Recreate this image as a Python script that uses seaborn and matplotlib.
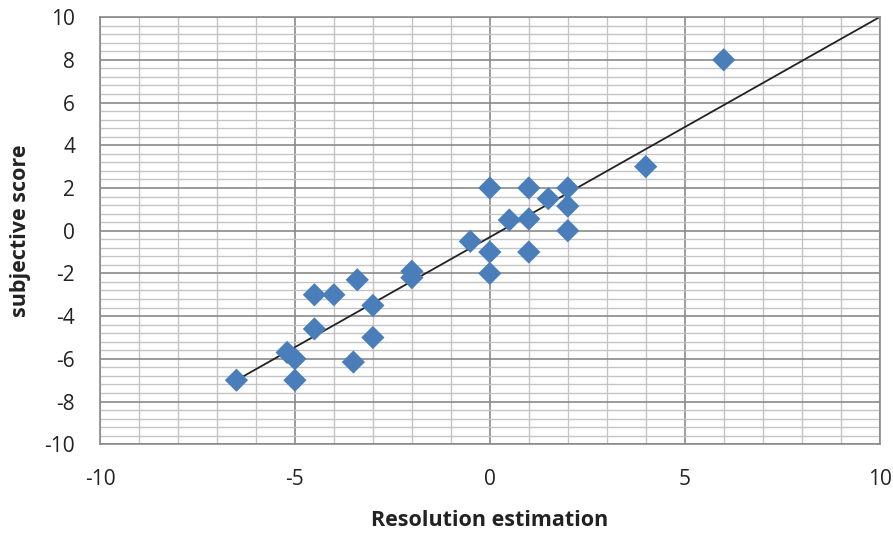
import matplotlib
matplotlib.use("Agg")
import matplotlib.pyplot as plt
import seaborn as sns
import pandas as pd
from matplotlib.ticker import MultipleLocator

# data
res_est = [6, 4, 0, 1, 2, 1.5, 2, 0.5, 1, 2, -0.5, 0, 1, 0, -2, -2, -3.4, -4.5, -4,
           -3, -4.5, -3, -5.2, -5, -3.5, -5, -6.5]
subj = [8, 3, 2, 2, 2, 1.5, 1.15, 0.5, 0.55, 0, -0.5, -1, -1, -2, -1.9, -2.2, -2.3, -3, -3,
        -3.5, -4.6, -5, -5.7, -6, -6.15, -7, -7]
line_x = [-6.5, 10]
line_y = [-7, 10]
x_ticks = [-10, -5, 0, 5, 10]
y_ticks = list(range(-10, 11, 2))

df = pd.DataFrame({"x": res_est, "y": subj})

sns.set_style("white")
plt.rcParams['font.family'] = ['Open Sans', 'DejaVu Sans']

fig = plt.figure(figsize=(8.93, 5.34), dpi=100)
ax = fig.add_axes([0.112, 0.168, 0.873, 0.800])

ax.set_xlim(-10, 10)
ax.set_ylim(-10, 10)
ax.xaxis.set_minor_locator(MultipleLocator(1))
ax.yaxis.set_minor_locator(MultipleLocator(0.4))
ax.grid(which="minor", color="#c4c4c4", linewidth=1.0, zorder=0)
ax.grid(which="major", color="#8a8a8a", linewidth=1.2, zorder=0)
ax.set_axisbelow(True)

sns.lineplot(x=line_x, y=line_y, color="#222222", linewidth=1.3, ax=ax, zorder=2)
sns.scatterplot(data=df, x="x", y="y", marker="D", s=140, color="#4a7ebb",
                edgecolor="none", ax=ax, zorder=3)

for sp in ax.spines.values():
    sp.set_color("#8a8a8a")
    sp.set_linewidth(1.2)

ax.set_xticks(x_ticks)
ax.set_xticklabels([str(v) for v in x_ticks])
ax.set_yticks(y_ticks)
ax.set_yticklabels([str(v) for v in y_ticks])
ax.tick_params(which="major", axis="both", direction="out", length=5, width=1.2,
               color="#8a8a8a", labelsize=15, labelcolor="#222222", pad=13)
ax.tick_params(which="minor", length=0)

ax.set_xlabel("Resolution estimation", fontsize=15.5, fontweight="bold", labelpad=14, color="#222222")
ax.set_ylabel("subjective score", fontsize=15.5, fontweight="bold", labelpad=10, color="#222222")

fig.savefig("out.png", dpi=100)
